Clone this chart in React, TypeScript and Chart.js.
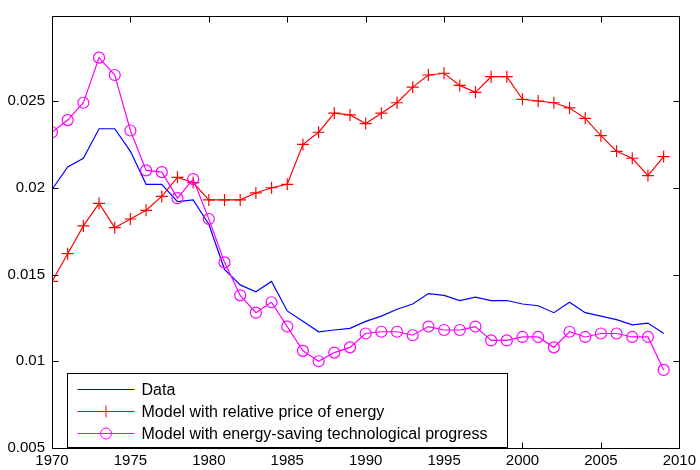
import React, { useEffect, useRef } from "react";
import { Chart, registerables } from "chart.js";

Chart.register(...registerables);

const years = [
  1970, 1971, 1972, 1973, 1974, 1975, 1976, 1977, 1978, 1979,
  1980, 1981, 1982, 1983, 1984, 1985, 1986, 1987, 1988, 1989,
  1990, 1991, 1992, 1993, 1994, 1995, 1996, 1997, 1998, 1999,
  2000, 2001, 2002, 2003, 2004, 2005, 2006, 2007, 2008, 2009,
];

const dataSeries = [
  0.0199, 0.0212, 0.0217, 0.0234, 0.0234, 0.0221, 0.0202, 0.0202, 0.0192, 0.0193,
  0.0179, 0.0153, 0.0144, 0.014, 0.0146, 0.0129, 0.0123, 0.0117, 0.0118, 0.0119,
  0.0123, 0.0126, 0.013, 0.0133, 0.0139, 0.0138, 0.0135, 0.0137, 0.0135, 0.0135,
  0.0133, 0.0132, 0.0128, 0.0134, 0.0128, 0.0126, 0.0124, 0.0121, 0.0122, 0.0116,
];

const priceSeries = [
  0.0146, 0.0162, 0.0178, 0.0191, 0.0177, 0.0182, 0.0187, 0.0195, 0.0206, 0.0203,
  0.0193, 0.0193, 0.0193, 0.0197, 0.02, 0.0202, 0.0225, 0.0232, 0.0243, 0.0242,
  0.0237, 0.0243, 0.0249, 0.0258, 0.0265, 0.0266, 0.0259, 0.0255, 0.0264, 0.0264,
  0.0251, 0.025, 0.0249, 0.0246, 0.024, 0.023, 0.0221, 0.0217, 0.0207, 0.0218,
];

const techSeries = [
  0.0232, 0.0239, 0.0249, 0.0275, 0.0265, 0.0233, 0.021, 0.0209, 0.0194, 0.0205,
  0.0182, 0.0157, 0.0138, 0.0128, 0.0134, 0.012, 0.0106, 0.01, 0.0105, 0.0108,
  0.0116, 0.0117, 0.0117, 0.0115, 0.012, 0.0118, 0.0118, 0.012, 0.0112, 0.0112,
  0.0114, 0.0114, 0.0108, 0.0117, 0.0114, 0.0116, 0.0116, 0.0114, 0.0114, 0.0095,
];

const xTicks = [1970, 1975, 1980, 1985, 1990, 1995, 2000, 2005, 2010];
const yTicks = [0.005, 0.01, 0.015, 0.02, 0.025];
const yTickLabels = ["0.005", "0.01", "0.015", "0.02", "0.025"];

const seriesNames = [
  "Data",
  "Model with relative price of energy",
  "Model with energy-saving technological progress",
];
const seriesColors = ["#0000ff", "#ff0000", "#ff00ff"];

const FONT_FAMILY = "'Liberation Sans', Arial, sans-serif";

const toPoints = (vals: number[]) => vals.map((v, i) => ({ x: years[i], y: v }));

const matlabPlugin = {
  id: "matlabAxes",
  afterDraw(chart: any) {
    const { ctx, chartArea } = chart;
    const { left, right, top, bottom } = chartArea;
    const xs = chart.scales.x;
    const ys = chart.scales.y;
    const L = Math.round(left) + 0.5;
    const R = Math.round(right) + 0.5;
    const T = Math.round(top) + 0.5;
    const B = Math.round(bottom) + 0.5;
    ctx.save();
    ctx.strokeStyle = "#000";
    ctx.lineWidth = 1;
    ctx.beginPath();
    ctx.rect(L, T, R - L, B - T);
    ctx.stroke();
    const tl = 6;
    ctx.beginPath();
    xTicks.forEach((v) => {
      const px = Math.round(xs.getPixelForValue(v)) + 0.5;
      ctx.moveTo(px, B);
      ctx.lineTo(px, B - tl);
      ctx.moveTo(px, T);
      ctx.lineTo(px, T + tl);
    });
    yTicks.forEach((v) => {
      const py = Math.round(ys.getPixelForValue(v)) + 0.5;
      ctx.moveTo(L, py);
      ctx.lineTo(L + tl, py);
      ctx.moveTo(R, py);
      ctx.lineTo(R - tl, py);
    });
    ctx.stroke();

    // legend
    const bx = L + 15;
    const bw = 440;
    const bh = 74;
    const by = B - bh - 1;
    ctx.fillStyle = "#fff";
    ctx.fillRect(bx, by, bw, bh);
    ctx.strokeStyle = "#000";
    ctx.strokeRect(bx, by, bw, bh);
    ctx.font = "16px " + FONT_FAMILY;
    ctx.textBaseline = "middle";
    ctx.textAlign = "left";
    seriesNames.forEach((name, i) => {
      const ry = Math.round(by + 15 + i * 22) + 0.5;
      const x0 = bx + 10;
      const x1 = bx + 67;
      ctx.strokeStyle = seriesColors[i];
      ctx.lineWidth = 1;
      ctx.beginPath();
      ctx.moveTo(x0, ry);
      ctx.lineTo(x1, ry);
      ctx.stroke();
      const cx = (x0 + x1) / 2;
      if (i === 1) {
        ctx.beginPath();
        ctx.moveTo(cx - 5, ry);
        ctx.lineTo(cx + 5, ry);
        ctx.moveTo(cx, ry - 6);
        ctx.lineTo(cx, ry + 6);
        ctx.stroke();
      } else if (i === 2) {
        ctx.beginPath();
        ctx.arc(cx, ry, 5.5, 0, Math.PI * 2);
        ctx.stroke();
      }
      ctx.fillStyle = "#000";
      ctx.fillText(name, x1 + 7, ry + 1);
    });
    ctx.restore();
  },
};

export default function App() {
  const canvasRef = useRef<HTMLCanvasElement | null>(null);

  useEffect(() => {
    document.body.style.margin = "0";
    const canvas = canvasRef.current;
    if (!canvas) return;
    const chart = new Chart(canvas, {
      type: "line",
      data: {
        datasets: [
          {
            label: seriesNames[0],
            data: toPoints(dataSeries),
            borderColor: seriesColors[0],
            backgroundColor: seriesColors[0],
            borderWidth: 1.2,
            pointRadius: 0,
            tension: 0,
            order: 2,
          },
          {
            label: seriesNames[1],
            data: toPoints(priceSeries),
            borderColor: seriesColors[1],
            backgroundColor: seriesColors[1],
            borderWidth: 1.2,
            pointStyle: "cross",
            pointRadius: 6,
            pointBorderWidth: 1.2,
            tension: 0,
            order: 1,
          },
          {
            label: seriesNames[2],
            data: toPoints(techSeries),
            borderColor: seriesColors[2],
            backgroundColor: "rgba(0,0,0,0)",
            borderWidth: 1.2,
            pointStyle: "circle",
            pointRadius: 5.5,
            pointBorderWidth: 1.2,
            tension: 0,
            order: 0,
          },
        ],
      },
      options: {
        animation: false,
        responsive: false,
        maintainAspectRatio: false,
        layout: { padding: { top: 13, right: 15, left: 0, bottom: 0 } },
        plugins: { legend: { display: false }, tooltip: { enabled: false } },
        scales: {
          x: {
            type: "linear",
            min: 1970,
            max: 2010,
            grid: { display: false, drawTicks: false },
            border: { display: false },
            afterBuildTicks: (axis: any) => {
              axis.ticks = xTicks.map((v) => ({ value: v }));
            },
            afterFit: (axis: any) => {
              axis.height = 22;
            },
            ticks: {
              padding: 4,
              color: "#000",
              maxRotation: 0,
              font: { family: FONT_FAMILY, size: 15 },
              callback: (v: any) => String(v),
            },
          },
          y: {
            type: "linear",
            min: 0.005,
            max: 0.0299,
            grid: { display: false, drawTicks: false },
            border: { display: false },
            afterBuildTicks: (axis: any) => {
              axis.ticks = yTicks.map((v) => ({ value: v }));
            },
            afterFit: (axis: any) => {
              axis.width = 52;
            },
            ticks: {
              padding: 7,
              color: "#000",
              font: { family: FONT_FAMILY, size: 15 },
              callback: (v: any) => {
                const idx = yTicks.findIndex((t) => Math.abs(t - v) < 1e-9);
                return idx >= 0 ? yTickLabels[idx] : "";
              },
            },
          },
        },
      },
      plugins: [matlabPlugin],
    } as any);
    return () => chart.destroy();
  }, []);

  return (
    <div style={{ width: 700, height: 470, background: "#fff" }}>
      <canvas ref={canvasRef} width={700} height={470} style={{ display: "block" }} />
    </div>
  );
}
